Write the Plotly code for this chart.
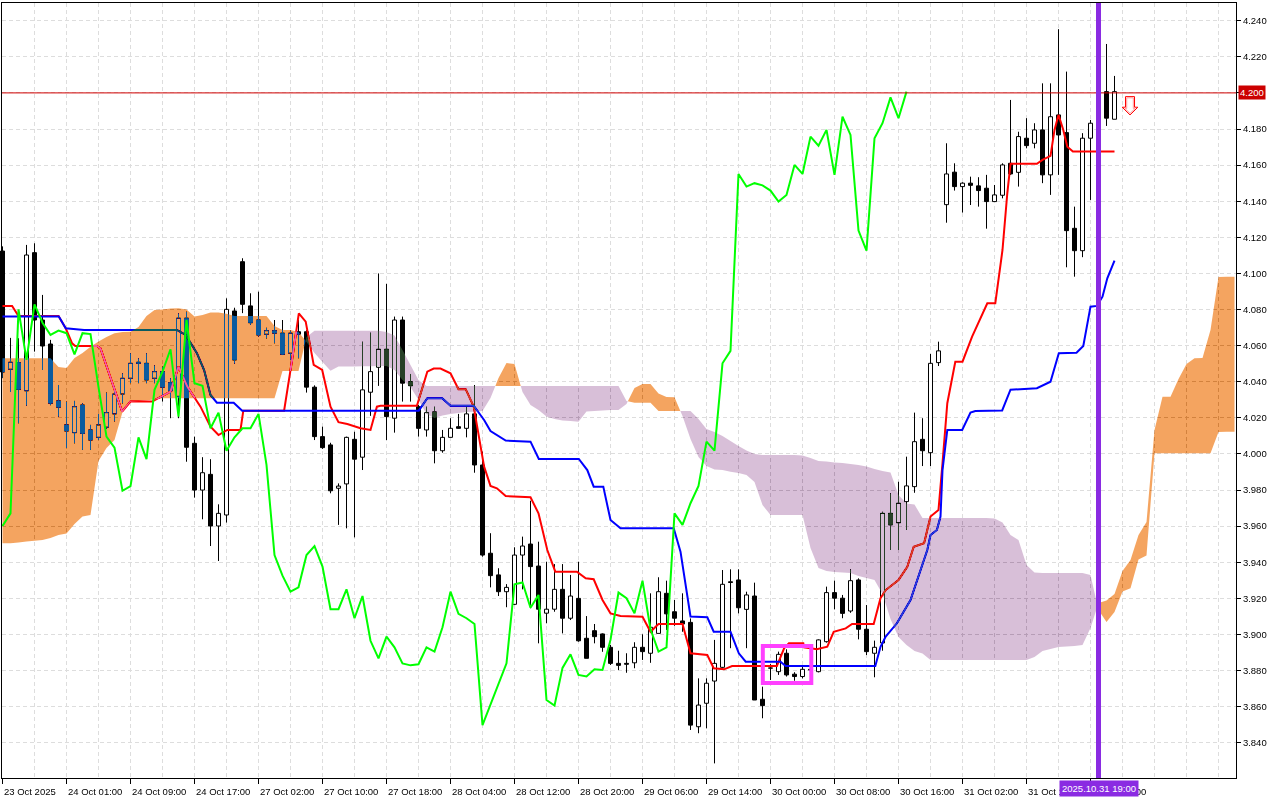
import plotly.graph_objects as go

# ---------------- data ----------------
bars_open = [4.1124, 4.0469, 4.0506, 4.0350, 4.1115, 4.0742, 4.0609, 4.0294, 4.0161, 4.0118,
             4.0271, 4.0133, 4.0092, 4.0148, 4.0222, 4.0332, 4.0419, 4.0508, 4.0502, 4.0419,
             4.0456, 4.0395, 4.0319, 4.0752, 4.0059, 3.9800, 3.9887, 3.9601, 3.9662, 4.0792,
             4.1065, 4.0820, 4.0742, 4.0663, 4.0683, 4.0669, 4.0558, 4.0677, 4.0677, 4.0370,
             4.0096, 4.0050, 3.9810, 3.9834, 4.0081, 3.9982, 4.0342, 4.0480, 4.0580, 4.0198,
             4.0742, 4.0400, 4.0262, 4.0133, 4.0233, 4.0018, 4.0092, 4.0151, 4.0142, 4.0222,
             3.9939, 3.9450, 3.9330, 3.9237, 3.9167, 3.9440, 3.9501, 3.9379, 3.9118, 3.9140,
             3.9250, 3.9090, 3.9200, 3.8979, 3.9021, 3.9003, 3.8929, 3.8840, 3.8840, 3.8843,
             3.8929, 3.8896, 3.9006, 3.9228, 3.9126, 3.9075, 3.9067, 3.8489, 3.8619, 3.8742,
             3.8818, 3.9292, 3.9302, 3.9139, 3.9213, 3.8641, 3.8813, 3.8794, 3.8896, 3.8780,
             3.8767, 3.8807, 3.8794, 3.8960, 3.9232, 3.9201, 3.9130, 3.9302, 3.9029, 3.8896,
             3.8953, 3.9671, 3.9619, 3.9736, 3.9819, 4.0081, 4.0007, 4.0506, 4.1381, 4.1561,
             4.1481, 4.1500, 4.1485, 4.1472, 4.1398, 4.1433, 4.1610, 4.1560, 4.1749, 4.1721,
             4.1795, 4.1546, 4.1878, 4.1780, 4.1250, 4.1126, 4.1749, 4.1832, 4.2007, 4.1854]

bars_high = [4.1150, 4.0643, 4.0641, 4.1158, 4.1167, 4.0881, 4.0632, 4.0382, 4.0290, 4.0294,
             4.0281, 4.0161, 4.0222, 4.0340, 4.0373, 4.0447, 4.0558, 4.0530, 4.0558, 4.0491,
             4.0484, 4.0420, 4.0779, 4.0788, 4.0096, 3.9982, 3.9971, 3.9721, 4.0862, 4.0810,
             4.1084, 4.0890, 4.0899, 4.0699, 4.0742, 4.0742, 4.0683, 4.0742, 4.0686, 4.0380,
             4.0151, 4.0062, 3.9837, 4.0096, 4.0123, 4.0622, 4.0672, 4.1000, 4.0942, 4.0761,
             4.0761, 4.0443, 4.0271, 4.0262, 4.0262, 4.0133, 4.0198, 4.0222, 4.0262, 4.0382,
             4.0013, 3.9561, 3.9367, 3.9279, 3.9483, 3.9542, 3.9741, 3.9514, 3.9403, 3.9390,
             3.9390, 3.9330, 3.9403, 3.9102, 3.9058, 3.9006, 3.8942, 3.8910, 3.8896, 3.8957,
             3.9001, 3.9228, 3.9317, 3.9298, 3.9191, 3.9228, 3.9089, 3.8757, 3.8757, 3.8970,
             3.9357, 3.9361, 3.9361, 3.9237, 3.9287, 3.8711, 3.8836, 3.8905, 3.8918, 3.8791,
             3.8822, 3.8830, 3.8973, 3.9265, 3.9298, 3.9219, 3.9361, 3.9311, 3.9163, 3.8966,
             3.9680, 3.9782, 3.9846, 3.9985, 4.0229, 4.0198, 4.0554, 4.0622, 4.1721, 4.1610,
             4.1505, 4.1536, 4.1533, 4.1546, 4.1490, 4.1610, 4.1961, 4.1785, 4.1860, 4.1832,
             4.2053, 4.2053, 4.2353, 4.2118, 4.1370, 4.1777, 4.1850, 4.2000, 4.2271, 4.2094]

bars_low = [4.0420, 4.0343, 4.0170, 4.0267, 4.0567, 4.0465, 4.0270, 4.0206, 4.0032, 4.0059,
            4.0022, 4.0022, 4.0077, 4.0140, 4.0180, 4.0280, 4.0392, 4.0392, 4.0392, 4.0392,
            4.0290, 4.0198, 4.0198, 3.9957, 3.9758, 3.9638, 3.9490, 3.9407, 3.9620, 4.0500,
            4.0780, 4.0715, 4.0650, 4.0640, 4.0613, 4.0548, 4.0521, 4.0530, 4.0340, 4.0077,
            4.0028, 3.9782, 3.9607, 3.9588, 3.9538, 3.9911, 4.0211, 4.0377, 4.0077, 4.0118,
            4.0290, 4.0290, 4.0096, 4.0096, 3.9948, 4.0007, 4.0092, 4.0140, 4.0092, 3.9896,
            3.9431, 3.9261, 3.9213, 3.9151, 3.9163, 3.9250, 3.9145, 3.8951, 3.9062, 3.9126,
            3.9006, 3.9080, 3.8960, 3.8868, 3.8951, 3.8904, 3.8831, 3.8803, 3.8788, 3.8813,
            3.8859, 3.8843, 3.9006, 3.9025, 3.9048, 3.9015, 3.8471, 3.8453, 3.8480, 3.8286,
            3.8810, 3.8924, 3.9117, 3.8924, 3.8637, 3.8536, 3.8748, 3.8776, 3.8767, 3.8744,
            3.8757, 3.8785, 3.8790, 3.8955, 3.9139, 3.9090, 3.9120, 3.8973, 3.8886, 3.8763,
            3.8910, 3.9468, 3.9468, 3.9579, 3.9785, 3.9933, 3.9933, 4.0487, 4.1281, 4.1459,
            4.1337, 4.1379, 4.1370, 4.1248, 4.1398, 4.1416, 4.1546, 4.1481, 4.1693, 4.1693,
            4.1500, 4.1435, 4.1546, 4.1034, 4.0982, 4.1090, 4.1407, 4.1800, 4.1817, 4.1854]

bars_close = [4.0454, 4.0508, 4.0358, 4.1102, 4.0742, 4.0598, 4.0281, 4.0259, 4.0127, 4.0262,
              4.0114, 4.0077, 4.0161, 4.0229, 4.0332, 4.0419, 4.0502, 4.0502, 4.0410, 4.0456,
              4.0370, 4.0350, 4.0752, 4.0037, 3.9800, 3.9896, 3.9601, 3.9671, 4.0801, 4.0521,
              4.0829, 4.0727, 4.0659, 4.0683, 4.0669, 4.0552, 4.0669, 4.0664, 4.0370, 4.0096,
              4.0035, 3.9796, 3.9822, 4.0092, 3.9971, 4.0355, 4.0456, 4.0580, 4.0207, 4.0742,
              4.0392, 4.0378, 4.0142, 4.0229, 4.0018, 4.0092, 4.0142, 4.0142, 4.0222, 3.9939,
              3.9440, 3.9326, 3.9237, 3.9261, 3.9440, 3.9490, 3.9376, 3.9140, 3.9140, 3.9250,
              3.9090, 3.9213, 3.8965, 3.8868, 3.8988, 3.8929, 3.8840, 3.8829, 3.8835, 3.8929,
              3.8905, 3.9040, 3.9237, 3.9114, 3.9090, 3.9058, 3.8498, 3.8609, 3.8730, 3.8840,
              3.9278, 3.9288, 3.9148, 3.9219, 3.8637, 3.8606, 3.8815, 3.8890, 3.8776, 3.8767,
              3.8807, 3.8803, 3.8970, 3.9232, 3.9201, 3.9117, 3.9298, 3.9029, 3.8905, 3.8929,
              3.9671, 3.9607, 3.9727, 3.9823, 4.0068, 4.0018, 4.0502, 4.0571, 4.1551, 4.1481,
              4.1500, 4.1488, 4.1459, 4.1398, 4.1435, 4.1601, 4.1551, 4.1758, 4.1708, 4.1795,
              4.1546, 4.1868, 4.1767, 4.1237, 4.1126, 4.1749, 4.1832, 4.1975, 4.1860, 4.2007]

tenkan_x = [0, 1.2, 2.0, 7.0, 7.9, 8.7, 9.1, 11.8, 12.25, 14.96, 16, 18.7, 21, 22, 23.1, 24.75,
            26, 27, 28.1, 29.75, 30.1, 35.2, 36.2, 37.04, 37.9, 38.1, 38.9, 39.96, 41, 42, 43.1,
            44.75, 46, 46.8, 47.25, 51.8, 53.1, 53.9, 54.75, 56, 57, 57.9, 58.9, 60.2, 61, 61.8,
            62.9, 66, 67, 68.1, 69.1, 71.8, 72.9, 73.9, 75, 76, 77.25, 80, 81, 82, 85, 86, 88.1,
            88.9, 90.2, 91.2, 96.8, 97.7, 98.3, 100.1, 100.2, 101.8, 103.1, 103.9, 105.4, 106.2,
            108.9, 109.75, 110.4, 112, 113.1, 113.9, 115.2, 116, 117, 117.5, 118.1, 119.1, 120,
            121.2, 123.1, 124.1, 125, 125.6, 126, 129.3, 130, 131, 131.5, 132, 132.6, 133.1,
            133.8, 139]
tenkan_y = [4.0820, 4.0820, 4.0764, 4.0764, 4.0696, 4.0613, 4.0598, 4.0598, 4.0585, 4.0234,
            4.0290, 4.0290, 4.0345, 4.0484, 4.0373, 4.0262, 4.0151, 4.0105, 4.0133, 4.0133,
            4.0240, 4.0240, 4.0521, 4.0779, 4.0733, 4.0687, 4.0493, 4.0465, 4.0262, 4.0176,
            4.0166, 4.0142, 4.0133, 4.0262, 4.0267, 4.0267, 4.0456, 4.0473, 4.0473, 4.0447,
            4.0359, 4.0359, 4.0262, 3.9930, 3.9823, 3.9810, 3.9767, 3.9760, 3.9671, 3.9468,
            3.9348, 3.9348, 3.9311, 3.9306, 3.9191, 3.9117, 3.9102, 3.9098, 3.9015, 3.9058,
            3.9058, 3.8896, 3.8886, 3.8813, 3.8807, 3.8825, 3.8825, 3.8923, 3.8951, 3.8951,
            3.8929, 3.8918, 3.8932, 3.9015, 3.9034, 3.9058, 3.9058, 3.9201, 3.9246, 3.9302,
            3.9375, 3.9486, 3.9505, 3.9653, 3.9690, 3.9948, 4.0281, 4.0511, 4.0511, 4.0650,
            4.0835, 4.0835, 4.1130, 4.1444, 4.1607, 4.1607, 4.1629, 4.1651, 4.1795, 4.1878,
            4.1795, 4.1702, 4.1675, 4.1675]

kijun_x = [0, 7.04, 7.9, 10.2, 21.8, 22.9, 24.3, 25.2, 26, 26.8, 28.9, 29.96, 52.04, 53.1, 54.96,
           56, 58.9, 59.75, 60.2, 61, 62.9, 66, 67.04, 72.04, 73.1, 73.9, 75.1, 76, 77.25, 83.9,
           84.75, 86, 88.1, 88.9, 91, 92.04, 92.9, 97.25, 97.9, 109.1, 109.75, 110.4, 111.8,
           113.5, 115.6, 116, 116.8, 117.25, 117.5, 118.1, 119.96, 121, 121.6, 124.96, 126,
           129.3, 131, 132.04, 134.25, 135.1, 136, 136.8, 137.5, 138.1, 139]
kijun_y = [4.0761, 4.0761, 4.0696, 4.0687, 4.0687, 4.0659, 4.0558, 4.0465, 4.0327, 4.0284,
           4.0284, 4.0240, 4.0240, 4.0309, 4.0309, 4.0267, 4.0267, 4.0216, 4.0188, 4.0127,
           4.0074, 4.0068, 3.9972, 3.9972, 3.9911, 3.9819, 3.9819, 3.9634, 3.9588, 3.9588,
           3.9459, 3.9100, 3.9095, 3.9015, 3.9015, 3.8896, 3.8849, 3.8849, 3.8825, 3.8825,
           3.8932, 3.8988, 3.9062, 3.9191, 3.9468, 3.9551, 3.9579, 3.9653, 3.9911, 4.0133,
           4.0133, 4.0229, 4.0238, 4.0241, 4.0356, 4.0364, 4.0400, 4.0558, 4.0561, 4.0598,
           4.0816, 4.0820, 4.0871, 4.0973, 4.1071]

# Senkou span A / B as drawn (already shifted 26 bars forward), one value per bar slot 0..154
span_a = [4.0530, 4.0530, 4.0530, 4.0530, 4.0530, 4.0530, 4.0530, 4.0482, 4.0476, 4.0532,
          4.0559, 4.0594, 4.0623, 4.0648, 4.0669, 4.0676, 4.0677, 4.0703, 4.0764, 4.0798,
          4.0800, 4.0806, 4.0807, 4.0800, 4.0762, 4.0770, 4.0783, 4.0783, 4.0776, 4.0764,
          4.0764, 4.0764, 4.0764, 4.0764, 4.0709, 4.0687, 4.0687, 4.0676, 4.0620, 4.0559,
          4.0510, 4.0461, 4.0484, 4.0485, 4.0485, 4.0486, 4.0486, 4.0487, 4.0487, 4.0465,
          4.0410, 4.0371, 4.0299, 4.0221, 4.0199, 4.0213, 4.0221, 4.0227, 4.0233, 4.0234,
          4.0238, 4.0310, 4.0421, 4.0504, 4.0498, 4.0343, 4.0271, 4.0244, 4.0207, 4.0194,
          4.0185, 4.0183, 4.0179, 4.0235, 4.0238, 4.0241, 4.0244, 4.0244, 4.0277, 4.0366,
          4.0388, 4.0388, 4.0335, 4.0316, 4.0314, 4.0210, 4.0083, 3.9983, 3.9933, 3.9914,
          3.9911, 3.9902, 3.9895, 3.9884, 3.9845, 3.9717, 3.9662, 3.9662, 3.9662, 3.9662,
          3.9662, 3.9479, 3.9368, 3.9352, 3.9346, 3.9343, 3.9341, 3.9324, 3.9313, 3.9302,
          3.9224, 3.9086, 3.8986, 3.8942, 3.8909, 3.8895, 3.8859, 3.8859, 3.8859, 3.8859,
          3.8859, 3.8859, 3.8859, 3.8859, 3.8859, 3.8859, 3.8859, 3.8859, 3.8859, 3.8875,
          3.8909, 3.8920, 3.8931, 3.8933, 3.8936, 3.8942, 3.9036, 3.9174, 3.9188, 3.9224,
          3.9352, 3.9413, 3.9551, 3.9623, 4.0133, 4.0317, 4.0317, 4.0415, 4.0498, 4.0530,
          4.0532, 4.0687, 4.0980, 4.0982, 4.0982]
span_b = [3.9505, 3.9505, 3.9510, 3.9515, 3.9519, 3.9523, 3.9534, 3.9551, 3.9559, 3.9612,
          3.9654, 3.9662, 3.9961, 4.0033, 4.0077, 4.0233, 4.0291, 4.0294, 4.0297, 4.0302,
          4.0308, 4.0308, 4.0308, 4.0308, 4.0308, 4.0308, 4.0308, 4.0308, 4.0308, 4.0308,
          4.0308, 4.0308, 4.0308, 4.0308, 4.0308, 4.0460, 4.0460, 4.0460, 4.0648, 4.0683,
          4.0683, 4.0683, 4.0683, 4.0683, 4.0683, 4.0683, 4.0683, 4.0683, 4.0676, 4.0656,
          4.0576, 4.0493, 4.0410, 4.0377, 4.0377, 4.0377, 4.0377, 4.0377, 4.0377, 4.0377,
          4.0377, 4.0377, 4.0377, 4.0377, 4.0377, 4.0377, 4.0377, 4.0377, 4.0377, 4.0377,
          4.0377, 4.0377, 4.0377, 4.0377, 4.0377, 4.0377, 4.0377, 4.0377, 4.0294, 4.0284,
          4.0284, 4.0284, 4.0238, 4.0238, 4.0238, 4.0238, 4.0238, 4.0194, 4.0138, 4.0122,
          4.0100, 4.0072, 4.0044, 4.0019, 4.0000, 3.9994, 3.9994, 3.9994, 3.9994, 3.9994,
          3.9991, 3.9978, 3.9961, 3.9958, 3.9953, 3.9950, 3.9944, 3.9939, 3.9931, 3.9917,
          3.9906, 3.9897, 3.9773, 3.9726, 3.9720, 3.9645, 3.9645, 3.9645, 3.9645, 3.9645,
          3.9645, 3.9645, 3.9645, 3.9645, 3.9643, 3.9620, 3.9551, 3.9523, 3.9385, 3.9343,
          3.9341, 3.9341, 3.9341, 3.9341, 3.9341, 3.9341, 3.9330, 3.9136, 3.9069, 3.9125,
          3.9238, 3.9256, 3.9415, 3.9438, 4.0004, 4.0004, 4.0004, 4.0004, 4.0004, 4.0004,
          4.0004, 4.0004, 4.0122, 4.0123, 4.0123]
chikou_shift = 26

tick_bars = [0, 8, 16, 24, 32, 40, 48, 56, 64, 72, 80, 88, 96, 104, 112, 120, 128, 136]
tick_labels = ["23 Oct 2025", "24 Oct 01:00", "24 Oct 09:00", "24 Oct 17:00", "27 Oct 02:00",
               "27 Oct 10:00", "27 Oct 18:00", "28 Oct 04:00", "28 Oct 12:00", "28 Oct 20:00",
               "29 Oct 06:00", "29 Oct 14:00", "30 Oct 00:00", "30 Oct 08:00", "30 Oct 16:00",
               "31 Oct 02:00", "31 Oct 10:00", "31 Oct 18:00"]
grid_minor_bars = [4, 12, 20, 28, 36, 44, 52, 60, 68, 76, 84, 92, 100, 108, 116, 124, 132,
                   140, 144, 148, 152]
price_ticks = [3.84, 3.86, 3.88, 3.90, 3.92, 3.94, 3.96, 3.98, 4.00, 4.02, 4.04, 4.06, 4.08,
               4.10, 4.12, 4.14, 4.16, 4.18, 4.20, 4.22, 4.24]

current_price = 4.200
cursor_bar = 137
cursor_label = "2025.10.31 19:00"
box_bars = [95.04, 101.1]
box_prices = [3.8731, 3.8936]
signal_bar = 140.94
signal_price = 4.1878

# ---------------- figure ----------------
FONT = "Liberation Sans, Arial, sans-serif"
X_RANGE = [-0.0625, 154.1875]   # half-pixel offset keeps 1px wicks crisp
Y_RANGE = [3.8205, 4.2498]
PLOT_H_PX = 775.0
PX_PER_BAR = 8.0
PRICE_PER_PX = (Y_RANGE[1] - Y_RANGE[0]) / PLOT_H_PX

idx = list(range(len(bars_close)))
body_base = [min(o, c) for o, c in zip(bars_open, bars_close)]
body_len = [abs(c - o) for o, c in zip(bars_open, bars_close)]
body_col = ["#FFFFFF" if c > o else "#000000" for o, c in zip(bars_open, bars_close)]

wick_x, wick_y = [], []
for i, o, h, l, c in zip(idx, bars_open, bars_high, bars_low, bars_close):
    top, bot = max(o, c), min(o, c)
    wick_x += [i, i, None, i, i, None]
    wick_y += [h, top, None, bot, l, None]

fig = go.Figure()
fig.add_trace(go.Bar(x=idx, y=body_len, base=body_base, width=0.5,
                     marker=dict(color=body_col, line=dict(color="#000000", width=1)),
                     hoverinfo="skip"))
fig.add_trace(go.Scatter(x=wick_x, y=wick_y, mode="lines",
                         line=dict(color="#000000", width=1), hoverinfo="skip"))
fig.add_trace(go.Scatter(x=tenkan_x, y=tenkan_y, mode="lines",
                         line=dict(color="#FF0000", width=2), hoverinfo="skip"))
fig.add_trace(go.Scatter(x=kijun_x, y=kijun_y, mode="lines",
                         line=dict(color="#0000FF", width=2), hoverinfo="skip"))

# Kumo: split into runs where A>=B (bullish) or A<B (bearish)
runs = []
cur = None
for i in range(len(span_a)):
    a, b = span_a[i], span_b[i]
    s = a >= b
    if cur is None:
        cur = [s, [i], [a], [b]]
        continue
    if s == cur[0]:
        cur[1].append(i); cur[2].append(a); cur[3].append(b)
    else:
        d0 = span_a[i - 1] - span_b[i - 1]
        d1 = a - b
        t = d0 / (d0 - d1)
        xc = i - 1 + t
        yc = span_a[i - 1] + t * (a - span_a[i - 1])
        cur[1].append(xc); cur[2].append(yc); cur[3].append(yc)
        runs.append(cur)
        cur = [s, [xc, i], [yc, a], [yc, b]]
runs.append(cur)

poly = {True: ([], []), False: ([], [])}
for s, xs, aa, bb in runs:
    px, py = poly[s]
    px += xs + xs[::-1] + [xs[0], None]
    py += aa + bb[::-1] + [aa[0], None]

# colours are the inverse of sandybrown / thistle; drawn with a "difference" blend
fig.add_trace(go.Scatter(x=poly[True][0], y=poly[True][1], mode="none", fill="toself",
                         fillcolor="rgb(11,91,159)", uid="kumoup", cliponaxis=False,
                         hoverinfo="skip"))
fig.add_trace(go.Scatter(x=poly[False][0], y=poly[False][1], mode="none", fill="toself",
                         fillcolor="rgb(39,64,39)", uid="kumodn", cliponaxis=False,
                         hoverinfo="skip"))

fig.add_trace(go.Scatter(x=idx[:len(idx) - chikou_shift], y=bars_close[chikou_shift:],
                         mode="lines", line=dict(color="#00FF00", width=2), hoverinfo="skip"))

grid_style = dict(gridcolor="#DDDDDD", griddash="4px,3px", gridwidth=1)
fig.update_layout(
    width=1280, height=800,
    margin=dict(l=2, r=44, t=3, b=22, pad=0),
    paper_bgcolor="#FFFFFF", plot_bgcolor="#FFFFFF",
    showlegend=False, hovermode=False, barmode="overlay",
    font=dict(family=FONT, size=9.5, color="#000000"),
)
fig.update_xaxes(range=X_RANGE, tickmode="array", tickvals=tick_bars, showticklabels=False,
                 ticks="outside", ticklen=5, tickcolor="#000000", tickwidth=1,
                 showgrid=True, **grid_style,
                 minor=dict(tickmode="array", tickvals=grid_minor_bars, showgrid=True,
                            ticks="", **grid_style),
                 showline=True, linecolor="#000000", linewidth=1, mirror=True,
                 zeroline=False, automargin=False, fixedrange=True)
fig.update_yaxes(side="right", range=Y_RANGE, tickmode="array", tickvals=price_ticks,
                 ticktext=["" if abs(v - current_price) < 1e-9 else f"{v:.3f}"
                           for v in price_ticks],
                 ticks="outside", ticklen=4, tickcolor="#000000", tickwidth=1,
                 tickfont=dict(family=FONT, size=9.5, color="#000000"),
                 showgrid=True, **grid_style,
                 showline=True, linecolor="#000000", linewidth=1, mirror=True,
                 zeroline=False, automargin=False, fixedrange=True)

# shapes: price line, cursor line, highlight box, signal arrow
fig.add_shape(type="line", xref="paper", x0=0, x1=1, yref="y", y0=current_price,
              y1=current_price, line=dict(color="#D00000", width=1), layer="above")
fig.add_shape(type="line", xref="x", x0=cursor_bar, x1=cursor_bar, yref="paper", y0=0, y1=1,
              line=dict(color="#8A2BE2", width=5), layer="above")
fig.add_shape(type="rect", xref="x", yref="y", x0=box_bars[0], x1=box_bars[1],
              y0=box_prices[0], y1=box_prices[1], line=dict(color="#FF40FF", width=4),
              fillcolor="rgba(0,0,0,0)", layer="above")


def arrow_path(pts):
    s = ""
    for k, (dx, dy) in enumerate(pts):
        x = signal_bar + dx / PX_PER_BAR
        y = signal_price + dy * PRICE_PER_PX
        s += ("M" if k == 0 else "L") + f"{x:.4f},{y:.5f} "
    return s + "Z"


outer = [(-4.5, 18.3), (4.5, 18.3), (4.5, 7.7), (7.8, 7.7), (0, 0), (-7.8, 7.7), (-4.5, 7.7)]
inner = [(-3.3, 17.1), (3.3, 17.1), (3.3, 6.5), (5.2, 6.5), (0, 1.6), (-5.2, 6.5), (-3.3, 6.5)]
fig.add_shape(type="path", path=arrow_path(outer), line=dict(color="#FF0000", width=1),
              fillcolor="rgba(0,0,0,0)", layer="above")
fig.add_shape(type="path", path=arrow_path(inner), line=dict(color="#FF9A9A", width=1),
              fillcolor="rgba(0,0,0,0)", layer="above")

# x tick labels (left aligned like the terminal)
for b, t in zip(tick_bars, tick_labels):
    fig.add_annotation(x=b, xref="x", y=0, yref="paper", text=t, showarrow=False,
                       xanchor="left", yanchor="top", xshift=-1, yshift=-6,
                       font=dict(family=FONT, size=9.5, color="#000000"))

fig.add_annotation(x=1, xref="paper", y=current_price, yref="y", text=f"{current_price:.3f}",
                   showarrow=False, xanchor="left", yanchor="middle", xshift=2,
                   bgcolor="#CC0000", borderpad=1,
                   font=dict(family=FONT, size=9.5, color="#FFFFFF"))
fig.add_annotation(x=cursor_bar, xref="x", y=0, yref="paper", text=cursor_label,
                   showarrow=False, xanchor="center", yanchor="top", yshift=-2,
                   bgcolor="#8A2BE2", borderpad=2,
                   font=dict(family=FONT, size=9.5, color="#FFFFFF"))

blend_js = """
(function(){
  document.body.style.margin = '0';
  document.body.style.padding = '0';
  document.documentElement.style.overflow = 'hidden';
  var st = document.createElement('style');
  st.textContent = 'html,body{margin:0;padding:0;overflow:hidden;} ' +
    '.tracekumoup path.js-fill, .tracekumodn path.js-fill {mix-blend-mode: difference;}';
  document.head.appendChild(st);
  function fix(){
    document.querySelectorAll('path.js-fill').forEach(function(p){
      var f = p.style.fill;
      if (f === 'rgb(11, 91, 159)' || f === 'rgb(39, 64, 39)') {
        p.style.mixBlendMode = 'difference';
        var el = p.parentNode;
        while (el && el.nodeName && el.nodeName.toLowerCase() !== 'svg') {
          if (el.getAttribute && el.getAttribute('clip-path')) { el.removeAttribute('clip-path'); }
          el = el.parentNode;
        }
      }
    });
  }
  fix(); setTimeout(fix, 0); setTimeout(fix, 100); setTimeout(fix, 400);
  var gd = document.querySelector('.plotly-graph-div');
  if (gd && gd.on) { gd.on('plotly_afterplot', fix); }
})();
"""

fig.write_html("out.html", post_script=blend_js, config={"displayModeBar": False})
